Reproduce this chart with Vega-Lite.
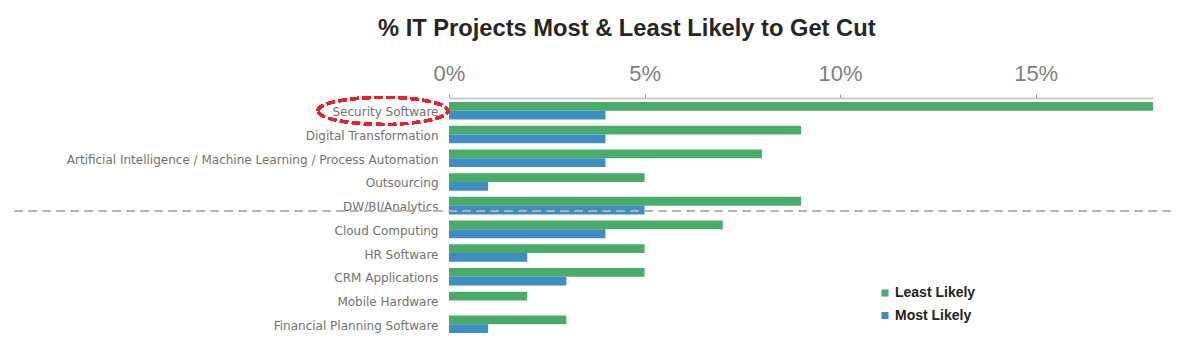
{
  "$schema": "https://vega.github.io/schema/vega-lite/v6.json",
  "autosize": "none",
  "width": 704,
  "height": 239,
  "padding": {"left": 449, "top": 98, "right": 27, "bottom": 9},
  "background": "#ffffff",
  "title": {
    "text": "% IT Projects Most & Least Likely to Get Cut",
    "font": "Liberation Sans",
    "fontSize": 23.7,
    "fontWeight": "bold",
    "color": "#262626",
    "anchor": "start",
    "frame": "group",
    "dx": -71,
    "offset": 21
  },
  "data": {
    "values": [
      {"project": "Security Software", "series": "Least Likely", "share": 0.18},
      {"project": "Security Software", "series": "Most Likely", "share": 0.04},
      {"project": "Digital Transformation", "series": "Least Likely", "share": 0.09},
      {"project": "Digital Transformation", "series": "Most Likely", "share": 0.04},
      {"project": "Artificial Intelligence / Machine Learning / Process Automation", "series": "Least Likely", "share": 0.08},
      {"project": "Artificial Intelligence / Machine Learning / Process Automation", "series": "Most Likely", "share": 0.04},
      {"project": "Outsourcing", "series": "Least Likely", "share": 0.05},
      {"project": "Outsourcing", "series": "Most Likely", "share": 0.01},
      {"project": "DW/BI/Analytics", "series": "Least Likely", "share": 0.09},
      {"project": "DW/BI/Analytics", "series": "Most Likely", "share": 0.05},
      {"project": "Cloud Computing", "series": "Least Likely", "share": 0.07},
      {"project": "Cloud Computing", "series": "Most Likely", "share": 0.04},
      {"project": "HR Software", "series": "Least Likely", "share": 0.05},
      {"project": "HR Software", "series": "Most Likely", "share": 0.02},
      {"project": "CRM Applications", "series": "Least Likely", "share": 0.05},
      {"project": "CRM Applications", "series": "Most Likely", "share": 0.03},
      {"project": "Mobile Hardware", "series": "Least Likely", "share": 0.02},
      {"project": "Mobile Hardware", "series": "Most Likely", "share": 0.0},
      {"project": "Financial Planning Software", "series": "Least Likely", "share": 0.03},
      {"project": "Financial Planning Software", "series": "Most Likely", "share": 0.01}
    ]
  },
  "layer": [
    {
      "mark": {"type": "bar"},
      "encoding": {
        "y": {
          "field": "project",
          "type": "nominal",
          "title": null,
          "scale": {
            "domain": ["Security Software", "Digital Transformation", "Artificial Intelligence / Machine Learning / Process Automation", "Outsourcing", "DW/BI/Analytics", "Cloud Computing", "HR Software", "CRM Applications", "Mobile Hardware", "Financial Planning Software"],
            "paddingInner": 0.26,
            "paddingOuter": 0.17
          },
          "axis": {
            "ticks": false,
            "domain": false,
            "labelFont": "DejaVu Sans",
            "labelFontSize": 12,
            "labelColor": "#727272",
            "labelPadding": 11,
            "labelOffset": 1.5,
            "labelLimit": 500
          }
        },
        "yOffset": {"field": "series", "type": "nominal", "scale": {"paddingInner": 0, "paddingOuter": 0}},
        "x": {
          "field": "share",
          "type": "quantitative",
          "title": null,
          "scale": {"domain": [0, 0.18], "nice": false, "zero": true},
          "axis": {
            "orient": "top",
            "values": [0, 0.05, 0.1, 0.15],
            "format": ".0%",
            "grid": false,
            "labelFlush": false,
            "labelFont": "Liberation Sans",
            "labelFontSize": 22,
            "labelColor": "#7f7f7f",
            "labelPadding": 9,
            "domainColor": "#bdbdbd",
            "domainWidth": 1.5,
            "tickColor": "#9a9a9a",
            "tickSize": 4
          }
        },
        "color": {
          "field": "series",
          "type": "nominal",
          "scale": {"domain": ["Least Likely", "Most Likely"], "range": ["#4aab6b", "#3e8ec3"]},
          "legend": {
            "title": null,
            "orient": "none",
            "legendX": 429,
            "legendY": 188,
            "symbolType": "square",
            "symbolSize": 50,
            "symbolStrokeWidth": 0,
            "labelFont": "Liberation Sans",
            "labelFontSize": 14,
            "labelFontWeight": "bold",
            "labelColor": "#222222",
            "labelOffset": 3,
            "rowPadding": 8.5
          }
        }
      }
    },
    {
      "mark": {"type": "rule", "strokeDash": [8, 6], "color": "#b3b3b3", "strokeWidth": 1.3},
      "encoding": {
        "y": {"datum": "DW/BI/Analytics", "type": "nominal", "bandPosition": 0.83},
        "x": {"datum": -0.111, "type": "quantitative"},
        "x2": {"datum": 0.185}
      }
    },
    {
      "mark": {
        "type": "point",
        "shape": "M -1 0 A 1 0.208 0 1 1 1 0 A 1 0.208 0 1 1 -1 0 Z",
        "size": 16900,
        "filled": false,
        "stroke": "#e8202a",
        "strokeWidth": 2.8,
        "strokeDash": [8, 4],
        "opacity": 1
      },
      "encoding": {
        "y": {"datum": "Security Software", "type": "nominal"},
        "x": {"datum": -0.0169, "type": "quantitative"}
      }
    }
  ],
  "config": {
    "view": {"stroke": null},
    "axis": {"labelFont": "Liberation Sans"}
  }
}
